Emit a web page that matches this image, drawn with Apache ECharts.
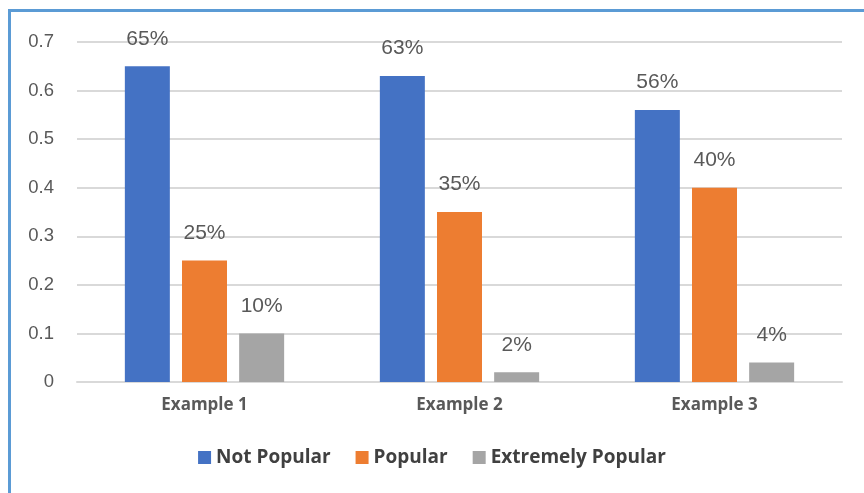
<!DOCTYPE html>
<html>
<head>
<meta charset="utf-8">
<style>
  html, body { margin: 0; padding: 0; background: #ffffff; }
  #chart { width: 864px; height: 493px; }
</style>
<script src="https://cdn.jsdelivr.net/npm/echarts@6/dist/echarts.min.js"></script>
</head>
<body>
<div id="chart"></div>
<script>
// Share of responses per example
const categories = ['Example 1', 'Example 2', 'Example 3'];
const notPopular = [0.65, 0.63, 0.56];
const popular = [0.25, 0.35, 0.40];
const extremelyPopular = [0.10, 0.02, 0.04];
const yTicks = { min: 0, max: 0.7, interval: 0.1 };

const chart = echarts.init(document.getElementById('chart'), null, { renderer: 'canvas' });

const labelStyle = {
  show: true,
  position: 'top',
  distance: 17,
  fontFamily: 'Liberation Sans, Arial, sans-serif',
  fontSize: 21,
  color: '#595959',
  formatter: p => Math.round(p.value * 100) + '%'
};

function barSeries(name, data, color) {
  return {
    name,
    type: 'bar',
    data,
    barWidth: 45,
    barGap: '27%',
    itemStyle: { color },
    label: labelStyle,
    emphasis: { disabled: true }
  };
}

chart.setOption({
  animation: false,
  backgroundColor: '#ffffff',
  graphic: [{
    type: 'rect',
    shape: { x: 9.5, y: 10.5, width: 900, height: 600 },
    style: { fill: 'none', stroke: '#5b9bd5', lineWidth: 3 },
    silent: true
  }],
  grid: { left: 77, right: 22, top: 42, bottom: 111 },
  legend: {
    bottom: 21,
    left: 'center',
    itemWidth: 13,
    itemHeight: 13,
    itemGap: 25,
    icon: 'rect',
    textStyle: {
      fontFamily: 'Open Sans, Lato, sans-serif',
      fontWeight: 'bold',
      fontSize: 19,
      color: '#404040',
      padding: [0, 0, 0, 0]
    },
    data: ['Not Popular', 'Popular', 'Extremely Popular']
  },
  xAxis: {
    type: 'category',
    data: categories,
    axisLine: { show: true, lineStyle: { color: '#d9d9d9', width: 2 } },
    axisTick: { show: false },
    axisLabel: {
      margin: 15,
      fontFamily: 'Open Sans, Lato, sans-serif',
      fontWeight: 'bold',
      fontSize: 17,
      color: '#595959'
    }
  },
  yAxis: {
    type: 'value',
    min: yTicks.min,
    max: yTicks.max,
    interval: yTicks.interval,
    axisLine: { show: false },
    axisTick: { show: false },
    splitLine: { lineStyle: { color: '#d9d9d9', width: 2 } },
    axisLabel: {
      margin: 23,
      fontFamily: 'Liberation Sans, Arial, sans-serif',
      fontSize: 18.5,
      color: '#595959',
      formatter: v => (v === 0 ? '0' : v.toFixed(1))
    }
  },
  series: [
    barSeries('Not Popular', notPopular, '#4472c4'),
    barSeries('Popular', popular, '#ed7d31'),
    barSeries('Extremely Popular', extremelyPopular, '#a5a5a5')
  ]
});
</script>
</body>
</html>
